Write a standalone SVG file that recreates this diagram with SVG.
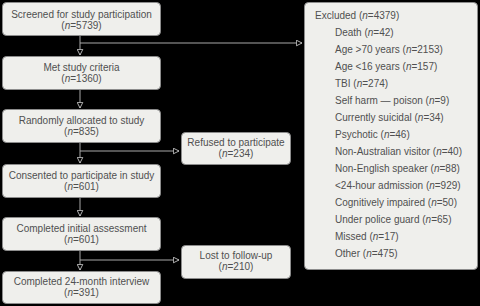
<svg xmlns="http://www.w3.org/2000/svg" width="480" height="306" viewBox="0 0 480 306">
<defs>
<style>
.bx{fill:#efefec;stroke:#8c8c8c;stroke-width:1}
.t{font-family:"Liberation Sans",Arial,sans-serif;font-size:10px;fill:#505050}
.c{text-anchor:middle}
.ln{stroke:#a8a8a8;stroke-width:1;fill:none}
</style>
<marker id="ah" viewBox="0 0 10 10" refX="9" refY="5" markerWidth="7" markerHeight="7" orient="auto" markerUnits="userSpaceOnUse">
<path d="M1,1 L9,5 L1,9 Z" fill="#000" stroke="#d0d0d0" stroke-width="1.2"/>
</marker>
</defs>
<rect width="480" height="306" fill="#000"/>
<g id="connectors">
<line class="ln" x1="80" y1="35" x2="80" y2="55" marker-end="url(#ah)"/>
<line class="ln" x1="80" y1="43" x2="302" y2="43" marker-end="url(#ah)"/>
<line class="ln" x1="80" y1="89" x2="80" y2="108" marker-end="url(#ah)"/>
<line class="ln" x1="80" y1="143" x2="80" y2="163" marker-end="url(#ah)"/>
<line class="ln" x1="80" y1="151" x2="179" y2="151" marker-end="url(#ah)"/>
<line class="ln" x1="80" y1="198" x2="80" y2="216" marker-end="url(#ah)"/>
<line class="ln" x1="80" y1="251" x2="80" y2="270" marker-end="url(#ah)"/>
<line class="ln" x1="80" y1="260" x2="179" y2="260" marker-end="url(#ah)"/>
</g>
<g id="screened">
<rect class="bx" x="2.5" y="2.5" width="158" height="33" rx="4"/>
<text class="t c" x="81.5" y="18">Screened for study participation</text>
<text class="t c" x="81.5" y="29">(<tspan font-style="italic">n</tspan>=5739)</text>
</g>
<g id="met">
<rect class="bx" x="2.5" y="56.5" width="158" height="33" rx="4"/>
<text class="t c" x="81.5" y="71">Met study criteria</text>
<text class="t c" x="81.5" y="82">(<tspan font-style="italic">n</tspan>=1360)</text>
</g>
<g id="randomly">
<rect class="bx" x="2.5" y="109.5" width="158" height="33" rx="4"/>
<text class="t c" x="81.5" y="124">Randomly allocated to study</text>
<text class="t c" x="81.5" y="135">(<tspan font-style="italic">n</tspan>=835)</text>
</g>
<g id="consented">
<rect class="bx" x="2.5" y="164.5" width="158" height="33" rx="4"/>
<text class="t c" x="81.5" y="179">Consented to participate in study</text>
<text class="t c" x="81.5" y="190">(<tspan font-style="italic">n</tspan>=601)</text>
</g>
<g id="initial">
<rect class="bx" x="2.5" y="217.5" width="158" height="33" rx="4"/>
<text class="t c" x="81.5" y="232">Completed initial assessment</text>
<text class="t c" x="81.5" y="243">(<tspan font-style="italic">n</tspan>=601)</text>
</g>
<g id="completed24">
<rect class="bx" x="2.5" y="271.5" width="158" height="32" rx="4"/>
<text class="t c" x="81.5" y="285">Completed 24-month interview</text>
<text class="t c" x="81.5" y="296">(<tspan font-style="italic">n</tspan>=391)</text>
</g>
<g id="refused">
<rect class="bx" x="181.5" y="132.5" width="109" height="32" rx="4"/>
<text class="t c" x="236" y="146">Refused to participate</text>
<text class="t c" x="236" y="157">(<tspan font-style="italic">n</tspan>=234)</text>
</g>
<g id="lost">
<rect class="bx" x="181.5" y="245.5" width="109" height="33" rx="4"/>
<text class="t c" x="236" y="259">Lost to follow-up</text>
<text class="t c" x="236" y="270">(<tspan font-style="italic">n</tspan>=210)</text>
</g>
<g id="excluded">
<rect class="bx" x="304.5" y="2.5" width="173" height="267" rx="4"/>
<text class="t" x="315" y="18.5" font-size="11">Excluded (<tspan font-style="italic">n</tspan>=4379)</text>
<text class="t" x="335" y="35.5">Death (<tspan font-style="italic">n</tspan>=42)</text>
<text class="t" x="335" y="52.5">Age &gt;70 years (<tspan font-style="italic">n</tspan>=2153)</text>
<text class="t" x="335" y="69.5">Age &lt;16 years (<tspan font-style="italic">n</tspan>=157)</text>
<text class="t" x="335" y="86.5">TBI (<tspan font-style="italic">n</tspan>=274)</text>
<text class="t" x="335" y="103.5">Self harm — poison (<tspan font-style="italic">n</tspan>=9)</text>
<text class="t" x="335" y="120.5">Currently suicidal (<tspan font-style="italic">n</tspan>=34)</text>
<text class="t" x="335" y="137.5">Psychotic (<tspan font-style="italic">n</tspan>=46)</text>
<text class="t" x="335" y="154.5">Non-Australian visitor (<tspan font-style="italic">n</tspan>=40)</text>
<text class="t" x="335" y="171.5">Non-English speaker (<tspan font-style="italic">n</tspan>=88)</text>
<text class="t" x="335" y="188.5">&lt;24-hour admission (<tspan font-style="italic">n</tspan>=929)</text>
<text class="t" x="335" y="205.5">Cognitively impaired (<tspan font-style="italic">n</tspan>=50)</text>
<text class="t" x="335" y="222.5">Under police guard (<tspan font-style="italic">n</tspan>=65)</text>
<text class="t" x="335" y="239.5">Missed (<tspan font-style="italic">n</tspan>=17)</text>
<text class="t" x="335" y="256.5">Other (<tspan font-style="italic">n</tspan>=475)</text>
</g>
</svg>
